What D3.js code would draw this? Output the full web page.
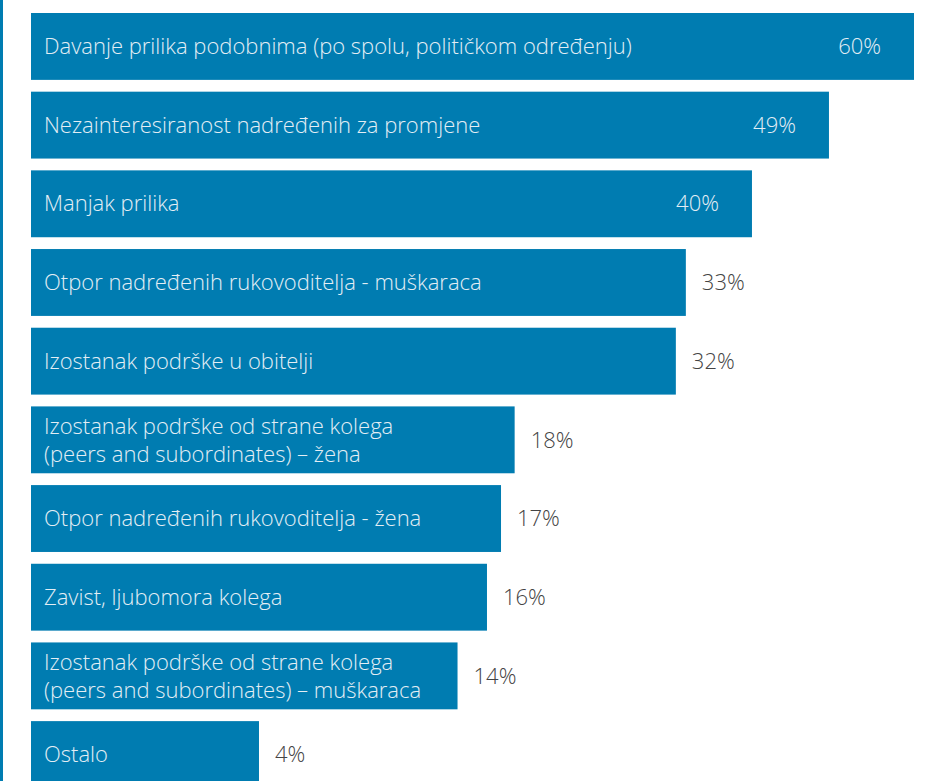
<!DOCTYPE html>
<html>
<head>
<meta charset="utf-8">
<script src="https://cdn.jsdelivr.net/npm/d3@7"></script>
<style>
  html, body { margin: 0; padding: 0; background: #ffffff; }
  svg { display: block; }
</style>
</head>
<body>
<svg id="chart" width="931" height="781"></svg>
<script>
// ---- data ----
const categories = [
  ["Davanje prilika podobnima (po spolu, političkom određenju)"],
  ["Nezainteresiranost nadređenih za promjene"],
  ["Manjak prilika"],
  ["Otpor nadređenih rukovoditelja - muškaraca"],
  ["Izostanak podrške u obitelji"],
  ["Izostanak podrške od strane kolega", "(peers and subordinates) – žena"],
  ["Otpor nadređenih rukovoditelja - žena"],
  ["Zavist, ljubomora kolega"],
  ["Izostanak podrške od strane kolega", "(peers and subordinates) – muškaraca"],
  ["Ostalo"]
];
const values = [60, 49, 40, 33, 32, 18, 17, 16, 14, 4];
const valueLabels = ["60%", "49%", "40%", "33%", "32%", "18%", "17%", "16%", "14%", "4%"];

// ---- drawing ----
const W = 931, H = 781;
const svg = d3.select("#chart");
const blue = "#007cb1";
const font = "'Open Sans', 'Noto Sans', sans-serif";

const idx = d3.range(values.length);
const y = d3.scaleBand().domain(idx).range([13, 788]).paddingInner(0.15).paddingOuter(0);
const x = d3.scaleSqrt().domain([0, 60]).range([31, 914]);

// left edge rule
svg.append("rect").attr("x", 0).attr("y", 0).attr("width", 3).attr("height", H).attr("fill", blue);

const g = svg.append("g");
const rows = g.selectAll("g.row").data(idx).join("g").attr("class", "row");

rows.append("rect")
  .attr("x", x(0))
  .attr("y", i => y(i))
  .attr("width", i => x(values[i]) - x(0))
  .attr("height", y.bandwidth())
  .attr("fill", blue);

// category labels
rows.each(function(i) {
  const lines = categories[i];
  const cy = y(i) + y.bandwidth() / 2;
  const lh = 28;
  const t = d3.select(this).append("text")
    .attr("x", x(0) + 13)
    .attr("fill", "#e3eef5")
    .style("font-family", font)
    .style("font-size", "22px")
    .style("font-weight", 300);
  lines.forEach((ln, k) => {
    t.append("tspan")
      .attr("x", x(0) + 13)
      .attr("y", cy + (k - (lines.length - 1) / 2) * lh)
      .attr("dy", "0.35em")
      .text(ln);
  });
});

// value labels
const insideThreshold = 40;
rows.append("text")
  .attr("x", i => values[i] >= insideThreshold ? x(values[i]) - 33 : x(values[i]) + 16)
  .attr("y", i => y(i) + y.bandwidth() / 2)
  .attr("dy", "0.35em")
  .attr("text-anchor", i => values[i] >= insideThreshold ? "end" : "start")
  .attr("fill", i => values[i] >= insideThreshold ? "#e3eef5" : "#444444")
  .style("font-family", font)
  .style("font-size", "22px")
  .style("font-weight", 300)
  .text(i => valueLabels[i]);
</script>
</body>
</html>
